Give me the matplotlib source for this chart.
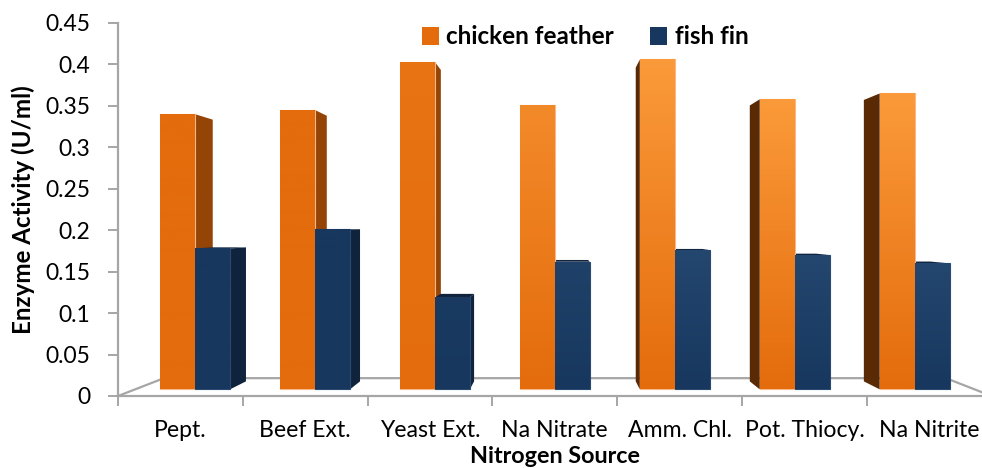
import numpy as np
import matplotlib
matplotlib.use("Agg")
import matplotlib.pyplot as plt
from matplotlib.patches import Polygon, Patch
from matplotlib.colors import to_rgb

# ---------------- data ----------------
categories = ["Pept.", "Beef Ext.", "Yeast Ext.", "Na Nitrate", "Amm. Chl.", "Pot. Thiocy.", "Na Nitrite"]
chicken_feather = [0.332, 0.337, 0.395, 0.343, 0.398, 0.350, 0.357]
fish_fin = [0.170, 0.193, 0.111, 0.154, 0.168, 0.162, 0.152]
series_names = ["chicken feather", "fish fin"]
yticks = [0, 0.05, 0.1, 0.15, 0.2, 0.25, 0.3, 0.35, 0.4, 0.45]
ytick_labels = ["0", "0.05", "0.1", "0.15", "0.2", "0.25", "0.3", "0.35", "0.4", "0.45"]

# ---------------- style ----------------
FONT = ["Lato", "DejaVu Sans"]
plt.rcParams["font.family"] = FONT
GRAY = "#A6A6A6"
ORANGE = "#E46C0C"
ORANGE_LIGHT = "#FB9A3A"
ORANGE_SIDE_R = "#944406"
ORANGE_SIDE_L = "#5A2A05"
NAVY = "#17375E"
NAVY_LIGHT = "#24476F"
NAVY_SIDE = "#10233D"

VX, VY = 3.51, 0.205        # vanishing point (data units)
T_BAR = 0.039               # depth of bar front plane
T_DEPTH = 0.049             # bar depth
T_FLOOR = 0.105             # floor depth
W = 0.28                    # bar width

fig = plt.figure(figsize=(9.82, 4.68), dpi=100)
ax = fig.add_axes([118 / 982, 72 / 468, 873.6 / 982, 373 / 468])
n = len(categories)


def back(x, y, t):
    return VX + (x - VX) * (1 - t), VY + (y - VY) * (1 - t)


def mix(c1, c2, g):
    a, b = np.array(to_rgb(c1)), np.array(to_rgb(c2))
    return a + (b - a) * g


def draw_bar(xl, xr, y0, v, base, light, g, side_r, side_l, edge):
    yt = y0 + v
    # side faces
    if xr < VX:
        bx0, by0 = back(xr, y0, T_DEPTH)
        bx1, by1 = back(xr, yt, T_DEPTH)
        ax.add_patch(Polygon([(xr, y0), (xr, yt), (bx1, by1), (bx0, by0)],
                             closed=True, facecolor=side_r, edgecolor="none", zorder=2))
    if xl > VX:
        bx0, by0 = back(xl, y0, T_DEPTH)
        bx1, by1 = back(xl, yt, T_DEPTH)
        ax.add_patch(Polygon([(xl, y0), (xl, yt), (bx1, by1), (bx0, by0)],
                             closed=True, facecolor=side_l, edgecolor="none", zorder=2))
    if yt < VY:
        p1 = back(xl, yt, T_DEPTH)
        p2 = back(xr, yt, T_DEPTH)
        ax.add_patch(Polygon([(xl, yt), (xr, yt), p2, p1], closed=True,
                             facecolor=side_r, edgecolor="none", zorder=2.5))
    # front face
    bars = ax.bar([(xl + xr) / 2], [v], width=xr - xl, bottom=y0, color=base,
                  edgecolor=edge, linewidth=0.8, zorder=3)
    patch = bars.patches[0]
    top_c = mix(base, light, g)
    bot_c = np.array(to_rgb(base))
    grad = np.linspace(0, 1, 64)[:, None, None]
    img = top_c[None, None, :] * (1 - grad) + bot_c[None, None, :] * grad
    img = np.repeat(img, 2, axis=1)
    im = ax.imshow(img, extent=[xl, xr, y0, yt], aspect="auto", origin="upper",
                   zorder=3.1, interpolation="bilinear")
    im.set_clip_path(patch)
    ax.add_patch(Polygon(patch.get_verts(), closed=True, facecolor="none",
                         edgecolor=edge, linewidth=0.8, zorder=3.2))


for i in range(n):
    cx = VX + (i + 0.5 - VX) * (1 - T_BAR)
    y0 = VY * T_BAR
    g = float(np.clip((cx - 2.2) / 2.0, 0, 1))
    draw_bar(cx - W, cx, y0, chicken_feather[i], ORANGE, ORANGE_LIGHT, g,
             ORANGE_SIDE_R, ORANGE_SIDE_L, "#F8B98A")
    draw_bar(cx, cx + W, y0, fish_fin[i], NAVY, NAVY_LIGHT, g,
             NAVY_SIDE, NAVY_SIDE, "#2A4A72")

# floor outline
fl = back(0, 0, T_FLOOR)
fr = back(n, 0, T_FLOOR)
ax.plot([0, fl[0], fr[0], n], [0, fl[1], fr[1], 0], color=GRAY, lw=1.6,
        zorder=1, clip_on=False, solid_joinstyle="miter")

ax.set_xlim(0, n)
ax.set_ylim(0, 0.45)
for s in ["top", "right"]:
    ax.spines[s].set_visible(False)
for s in ["left", "bottom"]:
    ax.spines[s].set_color(GRAY)
    ax.spines[s].set_linewidth(1.6)
ax.patch.set_visible(False)

ax.set_yticks(yticks)
ax.set_yticklabels(ytick_labels)
ax.tick_params(axis="y", direction="out", length=7, width=1.4, color=GRAY,
               pad=13, labelsize=16.5, labelcolor="black")
ax.set_xticks(np.arange(n + 1))
ax.set_xticklabels([""] * (n + 1))
ax.set_xticks(np.arange(n) + 0.5, minor=True)
ax.set_xticklabels(categories, minor=True)
ax.tick_params(axis="x", which="major", direction="out", length=7, width=1.4, color=GRAY)
ax.tick_params(axis="x", which="minor", length=0, pad=17.5, labelsize=16.6)

fig.text(23 / 982, 1 - 210 / 468, "Enzyme Activity (U/ml)", rotation=90,
         ha="center", va="center", fontsize=17.4, fontweight="bold")
fig.text(555 / 982, 1 / 468, "Nitrogen Source", ha="center", va="bottom",
         fontsize=16.8, fontweight="bold")

handles = [Patch(facecolor=ORANGE, edgecolor="none"), Patch(facecolor=NAVY, edgecolor="none")]
fig.legend(handles, series_names, loc="center", bbox_to_anchor=(585 / 982, 1 - 37 / 468),
           ncol=2, frameon=False, handlelength=0.7, handleheight=0.7, handletextpad=0.3,
           columnspacing=1.5, prop={"weight": "bold", "size": 17.5})

fig.savefig("out.png", dpi=100)
